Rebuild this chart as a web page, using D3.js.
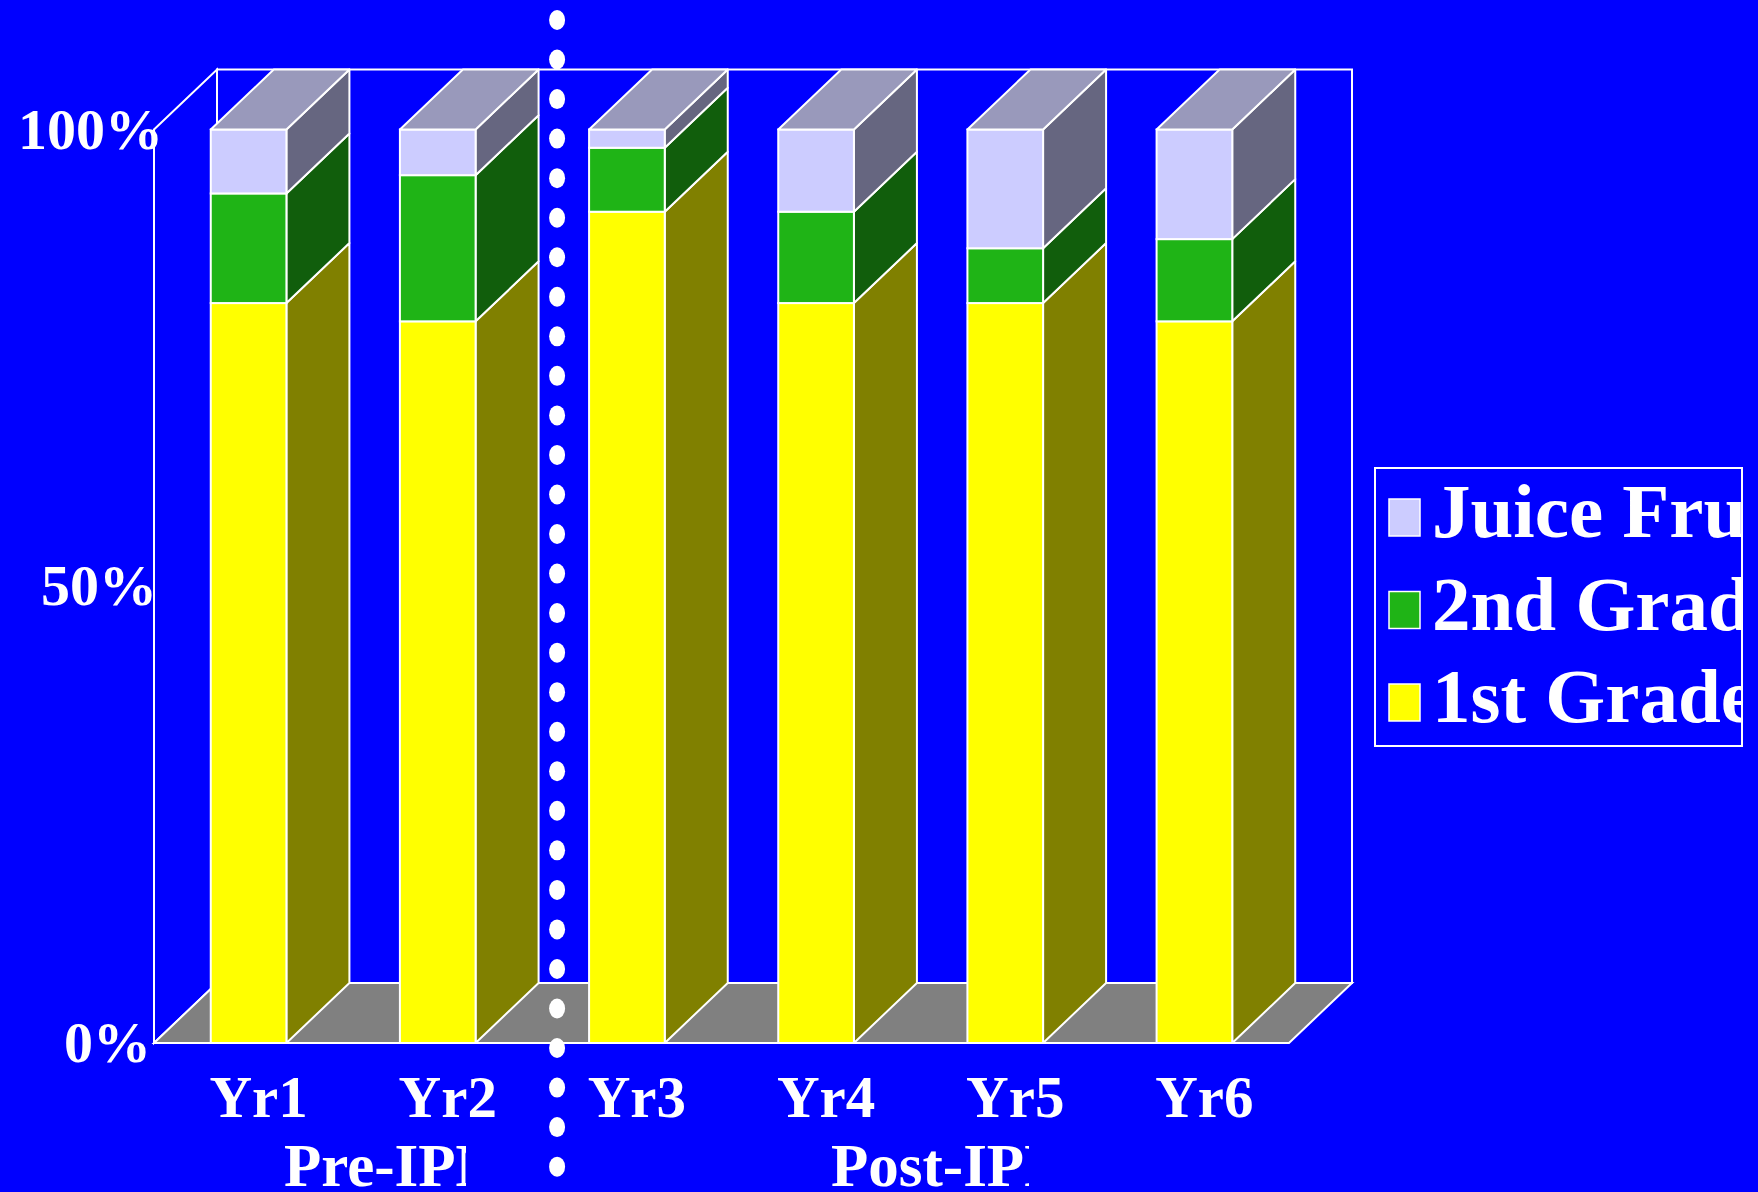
<!DOCTYPE html>
<html>
<head>
<meta charset="utf-8">
<script src="https://cdn.jsdelivr.net/npm/d3@7"></script>
<style>
  html, body { margin: 0; padding: 0; background: #0000ff; }
  svg { display: block; }
  text { font-family: "Liberation Serif", "Times New Roman", serif; font-weight: bold; fill: #ffffff; }
</style>
</head>
<body>
<svg id="chart" width="1758" height="1192"></svg>
<script>
// Share of fruit by grade per year (percent of total)
const years = ["Yr1", "Yr2", "Yr3", "Yr4", "Yr5", "Yr6"];
const firstGrade  = [81, 79, 91, 81, 81, 79];
const secondGrade = [12, 16, 7, 10, 6, 9];
const juiceFruit  = [7, 5, 2, 9, 13, 12];
const seriesNames = ["1st Grade", "2nd Grade", "Juice Fruit"];
const pctTicks = [0, 50, 100];
const phaseLabels = ["Pre-IPM", "Post-IPM"];

const W = 1758, H = 1192;
const svg = d3.select("#chart");
svg.append("rect").attr("width", W).attr("height", H).attr("fill", "#0000ff");

// Plot frame and 3-D depth offset
const plotLeft = 154, plotRight = 1289, plotBottom = 1043, plotTop = 129.5;
const dx = 63, dy = 60;

const x = d3.scaleBand().domain(years).range([plotLeft, plotRight]).paddingInner(0.6).paddingOuter(0.3);
const y = d3.scaleLinear().domain([0, 100]).range([plotBottom, plotTop]);

const seriesValues = [firstGrade, secondGrade, juiceFruit];
const palette = [
  { front: "#ffff00", side: "#808000", top: "#a0a000" },
  { front: "#1fb416", side: "#115e0c", top: "#188a10" },
  { front: "#ccccff", side: "#666680", top: "#9999bb" }
];

const rows = years.map((yr, i) => {
  const r = { year: yr };
  seriesNames.forEach((s, k) => r[s] = seriesValues[k][i]);
  return r;
});
const stacked = d3.stack().keys(seriesNames)(rows);

const line = "#ffffff";
const sw = 2;
const poly = pts => "M" + pts.map(p => p.join(",")).join("L") + "Z";

// Walls and floor
const g = svg.append("g");
const y0 = y(0), y100 = y(100);
// left side wall
g.append("path")
  .attr("d", poly([[plotLeft, y100], [plotLeft + dx, y100 - dy], [plotLeft + dx, y0 - dy], [plotLeft, y0]]))
  .attr("fill", "none").attr("stroke", line).attr("stroke-width", sw);
// back wall
g.append("rect")
  .attr("x", plotLeft + dx).attr("y", y100 - dy)
  .attr("width", plotRight - plotLeft).attr("height", y0 - y100)
  .attr("fill", "none").attr("stroke", line).attr("stroke-width", sw);
// floor
g.append("path")
  .attr("d", poly([[plotLeft, y0], [plotRight, y0], [plotRight + dx, y0 - dy], [plotLeft + dx, y0 - dy]]))
  .attr("fill", "#808080").attr("stroke", line).attr("stroke-width", sw);

// Stacked 3-D bars
const bw = x.bandwidth();
const bars = svg.append("g");
years.forEach((yr, i) => {
  const x0 = x(yr), x1 = x0 + bw;
  const bg = bars.append("g");
  stacked.forEach((layer, k) => {
    const [v0, v1] = layer[i];
    if (v1 - v0 <= 0) return;
    const ya = y(v0), yb = y(v1);
    bg.append("path")
      .attr("d", poly([[x1, ya], [x1 + dx, ya - dy], [x1 + dx, yb - dy], [x1, yb]]))
      .attr("fill", palette[k].side).attr("stroke", line).attr("stroke-width", sw).attr("stroke-linejoin", "round");
    bg.append("rect")
      .attr("x", x0).attr("y", yb).attr("width", bw).attr("height", ya - yb)
      .attr("fill", palette[k].front).attr("stroke", line).attr("stroke-width", sw);
  });
  const last = stacked.length - 1;
  const yt = y(stacked[last][i][1]);
  bg.append("path")
    .attr("d", poly([[x0, yt], [x1, yt], [x1 + dx, yt - dy], [x0 + dx, yt - dy]]))
    .attr("fill", palette[last].top).attr("stroke", line).attr("stroke-width", sw).attr("stroke-linejoin", "round");
});

// Percent axis labels
svg.append("g").selectAll("text").data(pctTicks).join("text")
  .attr("x", d => 151 + 12 * d / 100)
  .attr("y", d => y(d) + 19)
  .attr("text-anchor", "end")
  .attr("font-size", 58)
  .text(d => d + "%");

// Year labels
svg.append("g").selectAll("text").data(years).join("text")
  .attr("x", d => x(d) + bw / 2 + 10)
  .attr("y", 1117)
  .attr("text-anchor", "middle")
  .attr("font-size", 59)
  .text(d => d);

// Phase labels, cut off by their text boxes
const defs = svg.append("defs");
const phaseX = [284, 831];
const phaseClip = [466, 1029];
phaseLabels.forEach((lab, i) => {
  defs.append("clipPath").attr("id", "phase" + i)
    .append("rect").attr("x", 0).attr("y", 1120).attr("width", phaseClip[i]).attr("height", 72);
  svg.append("text")
    .attr("clip-path", "url(#phase" + i + ")")
    .attr("x", phaseX[i]).attr("y", 1186)
    .attr("font-size", 61)
    .text(lab);
});

// Dotted divider between pre and post periods
const divX = x("Yr3") - 32;
const dotY = d3.range(30).map(k => 20 + k * 39.54);
svg.append("g").selectAll("ellipse").data(dotY).join("ellipse")
  .attr("cx", divX).attr("cy", d => d)
  .attr("rx", 8).attr("ry", 10)
  .attr("fill", "#ffffff");

// Legend
const lg = svg.append("g");
const lgBox = { x: 1375, y: 468, w: 367, h: 278 };
defs.append("clipPath").attr("id", "legendClip")
  .append("rect").attr("x", lgBox.x).attr("y", lgBox.y).attr("width", lgBox.w).attr("height", lgBox.h);
lg.append("rect")
  .attr("x", lgBox.x).attr("y", lgBox.y).attr("width", lgBox.w).attr("height", lgBox.h)
  .attr("fill", "none").attr("stroke", line).attr("stroke-width", 2);
const legendOrder = [2, 1, 0];
legendOrder.forEach((k, row) => {
  const base = 537 + row * 92.5;
  lg.append("rect")
    .attr("x", 1389).attr("y", base - 38).attr("width", 31).attr("height", 37)
    .attr("fill", palette[k].front).attr("stroke", line).attr("stroke-width", 1.5);
  lg.append("text")
    .attr("clip-path", "url(#legendClip)")
    .attr("x", 1432).attr("y", base)
    .attr("font-size", 77)
    .text(seriesNames[k]);
});
</script>
</body>
</html>
